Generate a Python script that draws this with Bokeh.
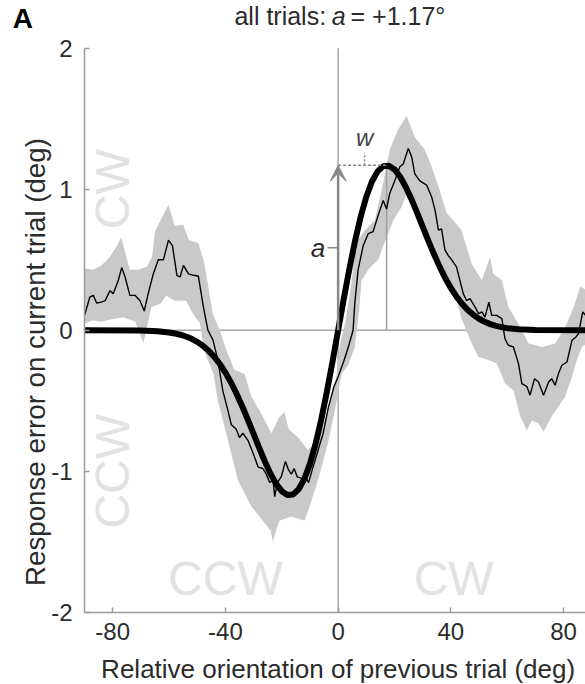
from bokeh.plotting import figure
from bokeh.models import Range1d, Label, Arrow, VeeHead, FixedTicker
from bokeh.core.properties import value
from bokeh.embed import file_html
from bokeh.resources import INLINE

# ---- data ----
# running-average response error (thin black line)
data_x = [-90, -88.1, -86.9, -85.7, -84, -82.7, -81, -79.8, -78, -76.8, -75.6, -73.9, -72.1, -70.3,
          -68.8, -67.4, -65.6, -63.8, -62, -60.2, -58.8, -57.2, -56.1, -54.9, -53.1, -51.3, -49.6,
          -47.8, -46.2, -44.4, -42.7, -40.9, -39.1, -37.9, -36.2, -35, -33.8, -32, -30.2, -28.4,
          -26.7, -25.5, -24.3, -23.1, -22.5, -21.6, -20.2, -18.7, -17.6, -16.6, -15.6, -14.5, -13.0,
          -11.3, -10.5, -8.9, -7.1, -5.3, -3.5, -1.5, 0, 2, 3.6, 5.3, 5.9, 7.1, 8.9, 10.7, 12.4,
          14.2, 16, 17.2, 18.3, 20.1, 21.9, 23.1, 24.9, 26.1, 27.2, 29, 31.4, 33.2, 34.4, 35.6,
          36.7, 37.9, 39.1, 40.3, 42, 43.2, 44.4, 45.6, 46.8, 48.6, 49.8, 51, 52.1, 53.5, 54.5,
          56.3, 58.1, 59.2, 60.4, 62.2, 64, 65.2, 67, 68.1, 69.7, 71.1, 72.9, 74.7, 75.8, 77,
          78.2, 79.4, 81.2, 83, 84.4, 85.3, 86.8, 88.3, 90]
data_y = [0.106, 0.236, 0.248, 0.194, 0.20, 0.21, 0.28, 0.26, 0.355, 0.445, 0.378, 0.248, 0.248, 0.21,
          0.137, 0.26, 0.40, 0.50, 0.50, 0.64, 0.60, 0.39, 0.378, 0.46, 0.40, 0.39, 0.385,
          0.165, 0.0, -0.07, -0.21, -0.43, -0.57, -0.67, -0.70, -0.76, -0.73, -0.78, -0.87, -0.97,
          -0.98, -1.02, -1.08, -1.06, -1.18, -1.08, -1.04, -0.93, -0.99, -1.02, -0.98, -1.04, -1.05,
          -1.05, -1.08, -0.97, -0.85, -0.73, -0.55, -0.40, -0.33, -0.22, -0.12, 0.0, 0.19, 0.43, 0.60, 0.686, 0.70,
          0.815, 0.92, 0.86, 0.97, 1.06, 1.16, 1.18, 1.29, 1.23, 1.11, 1.06, 1.03, 0.945, 0.85, 0.71,
          0.72, 0.57, 0.53, 0.50, 0.45, 0.355, 0.26, 0.21, 0.225, 0.165, 0.118, 0.13, 0.094, 0.20, 0.106,
          0.106, 0.083, -0.06, -0.106, -0.118, -0.236, -0.378, -0.40, -0.46, -0.343, -0.367, -0.46, -0.367, -0.343, -0.39,
          -0.307, -0.248, -0.225, -0.07, -0.047, -0.024, 0.13, 0.094, 0.05]

# error band: upper and lower envelopes
band_hi_x = [-90, -87, -84, -81, -78.5, -77, -75.5, -74, -71, -68, -66, -65, -63, -60.2, -58, -55, -53,
             -49.6, -47.5, -46, -44.5, -42, -39.5, -36.8, -33.2, -30.8, -27.3, -23.7, -21, -19, -17.6,
             -14.2, -10.7, -7.1, -3.6, -0.6, 0.6, 2.5, 4.5, 6, 7.1, 9.5, 13, 15.4, 18.3, 21.2, 24.3, 27.2,
             30.8, 33.2, 36.1, 38.5, 40.9, 43.8, 47.4, 51, 53.9, 55.1, 58.1, 60.4, 64, 67.6, 72.3, 77,
             80.6, 83.6, 85.9, 88.3, 90]
band_hi_y = [0.44, 0.43, 0.46, 0.52, 0.60, 0.66, 0.55, 0.43, 0.43, 0.45, 0.52, 0.70, 0.78, 0.89, 0.74, 0.75, 0.64,
             0.62, 0.48, 0.30, 0.12, 0.0, -0.15, -0.28, -0.31, -0.47, -0.59, -0.73, -0.62, -0.58, -0.70,
             -0.76, -0.85, -0.78, -0.57, -0.33, -0.10, 0.05, 0.30, 0.55, 0.64, 0.71, 0.78, 0.99, 1.28, 1.42, 1.52, 1.37,
             1.28, 1.16, 0.99, 0.83, 0.78, 0.71, 0.47, 0.355, 0.52, 0.40, 0.355, 0.165, 0.047, -0.094, -0.118, -0.094,
             0.024, 0.165, 0.31, 0.28, 0.25]
band_lo_x = [-90, -87, -84, -80, -76, -72, -69.1, -67.5, -66.3, -63, -61, -58, -54, -51, -49, -47.8, -46.3,
             -44.2, -42.7, -39.1, -35.6, -30.8, -26.7, -24, -23.1, -22, -20.8, -16.6, -11.9, -9.5, -7.1,
             -3.6, -1.2, 1.2, 3.5, 5.9, 7.5, 8.3, 10.7, 14.2, 17.2, 19.6, 22.5, 24.9, 26.5, 28.5, 30.8,
             33.2, 35.4, 38.5, 41.5, 43.8, 47.4, 49.8, 53.3, 56.3, 59.2, 62.2, 64.6, 67, 68.7, 71, 72.9,
             75.8, 78.2, 80.6, 83, 84.7, 86.5, 88.3, 90]
band_lo_y = [0.05, 0.07, 0.06, 0.08, 0.09, 0.06, -0.09, 0.05, 0.165, 0.19, 0.245, 0.21, 0.21, 0.10, 0.05, -0.12, -0.21,
             -0.31, -0.50, -0.78, -1.06, -1.25, -1.35, -1.42, -1.50, -1.42, -1.35, -1.32, -1.35, -1.21, -1.06,
             -0.80, -0.57, -0.31, -0.25, -0.12, 0.15, 0.355, 0.43, 0.50, 0.66, 0.78, 0.875, 1.0, 0.90, 0.78, 0.66,
             0.59, 0.43, 0.355, 0.26, 0.08, -0.094, -0.19, -0.21, -0.236, -0.378, -0.425, -0.61, -0.71, -0.64, -0.66, -0.72,
             -0.61, -0.54, -0.47, -0.33, -0.21, -0.118, -0.094, -0.08]

# derivative-of-Gaussian fit (thick black curve)
fit_x = [-90, -70, -64, -60, -58, -56, -54, -52, -50, -48, -46, -44, -42, -40, -38, -36, -34, -32, -30,
         -28, -26, -24, -22, -20, -18, -16, -14, -12, -10, -8, -6, -4, -2, 0, 2, 4, 6, 8, 10, 12, 14,
         16, 18, 20, 22, 24, 26, 28, 30, 32, 34, 36, 38, 40, 42, 44, 46, 48, 50, 52, 54, 56, 58, 60,
         64, 70, 90]
fit_y = [0.0, -0.0015, -0.0071, -0.0153, -0.0221, -0.0314, -0.0439, -0.0604, -0.0820, -0.1096, -0.1444,
         -0.1872, -0.2389, -0.3001, -0.3712, -0.4516, -0.5405, -0.6358, -0.7351, -0.8346, -0.9303, -1.0167,
         -1.0889, -1.1409, -1.1675, -1.1642, -1.1274, -1.0551, -0.9472, -0.8052, -0.6332, -0.4367, -0.2228,
         0.0, 0.2228, 0.4367, 0.6332, 0.8052, 0.9472, 1.0551, 1.1274, 1.1642, 1.1675, 1.1409, 1.0889,
         1.0167, 0.9303, 0.8346, 0.7351, 0.6358, 0.5405, 0.4516, 0.3712, 0.3001, 0.2389, 0.1872, 0.1444,
         0.1096, 0.0820, 0.0604, 0.0439, 0.0314, 0.0221, 0.0153, 0.0071, 0.0015, 0.0]

a_amp = 1.17        # amplitude a
peak_x = 17.2       # location of the fit peak

x_lim = (-90, 90)
y_lim = (-2, 2)
x_ticks = [-80, -40, 0, 40, 80]
y_ticks = [-2, -1, 0, 1, 2]
x_title = "Relative orientation of previous trial (deg)"
y_title = "Response error on current trial (deg)"

FONT = "Liberation Sans"
TXT = "#2b2b2b"
AX = "#9a9a9a"
WM = "#e2e2e2"
ZL = "#a8a8a8"

# frame covers the whole canvas; both axes are pinned at the data limits
p = figure(width=585, height=684, x_range=Range1d(-119.81, 87.78), y_range=Range1d(-2.512, 2.339),
           output_backend="svg", toolbar_location=None,
           min_border_left=0, min_border_right=0, min_border_top=0, min_border_bottom=0)
p.outline_line_color = None
p.grid.visible = False

for ax in (p.xaxis[0], p.yaxis[0]):
    ax.axis_line_color = AX
    ax.axis_line_width = 1.5
    ax.major_tick_line_color = AX
    ax.major_tick_line_width = 1.5
    ax.major_tick_in = 5
    ax.major_tick_out = 0
    ax.minor_tick_line_color = None
    ax.major_label_text_font = FONT
    ax.major_label_text_font_size = "24px"
    ax.major_label_text_color = TXT

p.xaxis.ticker = FixedTicker(ticks=x_ticks)
p.yaxis.ticker = FixedTicker(ticks=y_ticks)
p.xaxis.major_label_overrides = {t: str(t) for t in x_ticks}
p.yaxis.major_label_overrides = {t: str(t) for t in y_ticks}
p.xaxis.bounds = x_lim
p.yaxis.bounds = y_lim
p.yaxis.fixed_location = x_lim[0]
p.xaxis.fixed_location = y_lim[0]
p.xaxis.major_label_standoff = 11
p.yaxis.major_label_standoff = 12

# axis titles
p.text(x=[0], y=[-2.402], text=[x_title], text_font=value(FONT), text_font_size="26px",
       text_color=TXT, text_align="center", text_baseline="middle")
p.text(x=[-107.4], y=[-0.225], text=[y_title], text_font=value(FONT), text_font_size="27.7px",
       text_color=TXT, text_align="center", text_baseline="middle", angle=1.5708)

# watermark texts
p.text(x=[-40, 41], y=[-1.757, -1.757], text=["CCW", "CW"], text_font=value(FONT),
       text_font_size="48px", text_color=WM, text_align="center", text_baseline="middle")
p.text(x=[-80, -80], y=[1.0, -1.0], text=["CW", "CCW"], text_font=value(FONT),
       text_font_size="48px", text_color=WM, text_align="center", text_baseline="middle",
       angle=1.5708)

# zero lines
p.segment(x0=[x_lim[0], 0], y0=[0, y_lim[0]], x1=[x_lim[1], 0], y1=[0, y_lim[1]],
          line_color=ZL, line_width=1.5)

# error band
p.patch(band_hi_x + band_lo_x[::-1], band_hi_y + band_lo_y[::-1],
        fill_color="#c9c9c9", line_color=None)

# peak marker line
p.segment(x0=[peak_x], y0=[0], x1=[peak_x], y1=[a_amp], line_color="#a0a0a0", line_width=1.5)

# data line and fit
p.line(data_x, data_y, line_color="black", line_width=1.4)
p.line(fit_x, fit_y, line_color="black", line_width=6)

# annotations for a and w
p.add_layout(Arrow(end=VeeHead(size=16, fill_color="#888888", line_color="#888888"),
                   x_start=0, y_start=0, x_end=0, y_end=a_amp,
                   line_color="#888888", line_width=2.5))
p.segment(x0=[0], y0=[a_amp], x1=[peak_x], y1=[a_amp], line_color="#888888",
          line_width=1.5, line_dash="3 2")
p.segment(x0=[peak_x / 2 + 0.8], y0=[a_amp], x1=[peak_x / 2 + 0.8], y1=[a_amp + 0.09],
          line_color="#888888", line_width=1.5, line_dash="2 2")
p.segment(x0=[-3.8], y0=[a_amp / 2], x1=[0], y1=[a_amp / 2], line_color="#888888", line_width=1.5)
p.add_layout(Label(x=-4.6, y=a_amp / 2, text="a", text_font=FONT, text_font_size="26px",
                   text_font_style="italic", text_color=TXT, text_align="right",
                   text_baseline="middle"))
p.add_layout(Label(x=peak_x / 2 + 0.8, y=a_amp + 0.1, text="w", text_font=FONT, text_font_size="24px",
                   text_font_style="italic", text_color="#444444", text_align="center",
                   text_baseline="bottom"))

# title pieces
ty = 2.226
p.add_layout(Label(x=-36.8, y=ty, text="all trials:", text_font=FONT, text_font_size="25px",
                   text_color=TXT, text_align="left", text_baseline="middle"))
p.add_layout(Label(x=-2.3, y=ty, text="a", text_font=FONT, text_font_size="25px",
                   text_font_style="italic", text_color=TXT, text_align="left",
                   text_baseline="middle"))
p.add_layout(Label(x=4.4, y=ty, text="= +1.17°", text_font=FONT, text_font_size="25px",
                   text_color=TXT, text_align="left", text_baseline="middle"))
p.add_layout(Label(x=-115.5, y=2.208, text="A", text_font=FONT, text_font_size="28px",
                   text_font_style="bold", text_color="black", text_align="left",
                   text_baseline="middle"))

open("out.html", "w").write(file_html(p, INLINE))
